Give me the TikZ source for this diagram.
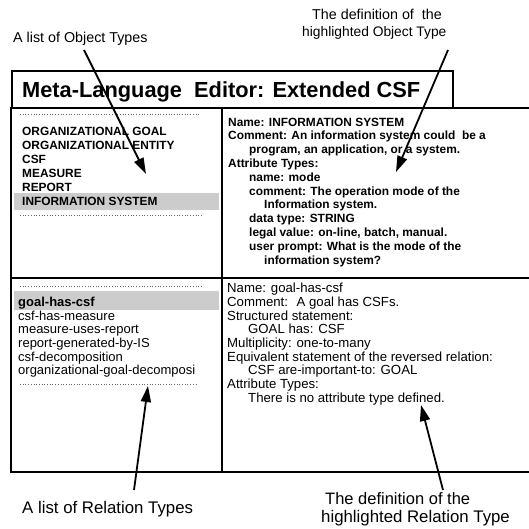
\documentclass[tikz,border=0pt]{standalone}
\usepackage{fontspec}
\setmainfont{Liberation Sans}
\usetikzlibrary{arrows.meta}
\begin{document}
\begin{tikzpicture}[x=1pt,y=-1pt,
 txt/.style={anchor=west,inner sep=0pt,text depth=0pt},
 topt/.style={txt,font=\fontsize{11.9}{13}\selectfont\bfseries,text height=8.5pt},
 bott/.style={txt,font=\fontsize{13}{14}\selectfont,text height=9.3pt},
 botr/.style={txt,font=\fontsize{13.2}{14}\selectfont,text height=9.4pt},
 botb/.style={txt,font=\fontsize{13}{14}\selectfont\bfseries,text height=9.3pt},
 annt/.style={txt,font=\fontsize{14.3}{16}\selectfont,text height=10.2pt},
 annb/.style={txt,font=\fontsize{16.8}{18}\selectfont,text height=12pt},
 titlet/.style={txt,font=\fontsize{21.8}{24}\selectfont\bfseries,text height=15.5pt},
 frame/.style={line width=1.6pt},
 dotline/.style={dotted, black!60, line width=0.7pt},
 hl/.style={fill=black!20},
 arr/.style={line width=1.8pt,-{Triangle[length=16pt,width=10pt]}}
]
\useasboundingbox (0,0) rectangle (529,529);
% highlight bands
\fill[hl] (14,193) rectangle (219,210);
\fill[hl] (14,291) rectangle (219,310);
% frames
\draw[frame] (12,71) rectangle (453,108);
\draw[frame] (529,108) -- (11,108) -- (11,472) -- (529,472);
\draw[frame] (222,108) -- (222,472);
\draw[frame] (11,278) -- (529,278);
% dotted separators
\draw[dotline] (20,114) -- (200,114);
\draw[dotline] (20,215) -- (203,215);
\draw[dotline] (20,286) -- (203,286);
\draw[dotline] (20,384) -- (197,384);
% title
\node[titlet] (title) at (22,90) {Meta-Language~ Editor: Extended CSF};
% object types
\node[topt] (o1) at (22,131) {ORGANIZATIONAL GOAL};
\node[topt] (o2) at (22,145) {ORGANIZATIONAL ENTITY};
\node[topt] (o3) at (22,159) {CSF};
\node[topt] (o4) at (22,173) {MEASURE};
\node[topt] (o5) at (22,187) {REPORT};
\node[topt] (o6) at (22,201) {INFORMATION SYSTEM};
% object definition
\node[topt] (d1) at (228,122) {Name: INFORMATION SYSTEM};
\node[topt] (d2) at (228,135.5) {Comment: An information system could~ be a};
\node[topt] (d3) at (249,149) {program, an application, or a system.};
\node[topt] (d4) at (228,163) {Attribute Types:};
\node[topt] (d5) at (249,177) {name: mode};
\node[topt] (d6) at (249,191) {comment: The operation mode of the};
\node[topt] (d7) at (264,204.5) {Information system.};
\node[topt] (d8) at (249,218) {data type: STRING};
\node[topt] (d9) at (249,232) {legal value: on-line, batch, manual.};
\node[topt] (d10) at (249,246) {user prompt: What is the mode of the};
\node[topt] (d11) at (264,260) {information system?};
% relation types
\node[botb] (r1) at (18,302) {goal-has-csf};
\node[bott] (r2) at (18,315.5) {csf-has-measure};
\node[bott] (r3) at (18,329) {measure-uses-report};
\node[bott] (r4) at (18,343) {report-generated-by-IS};
\node[bott] (r5) at (18,356.5) {csf-decomposition};
\node[bott] (r6) at (18,370) {organizational-goal-decomposi};
% relation definition
\node[botr] (e1) at (227,288) {Name: goal-has-csf};
\node[botr] (e2) at (227,302) {Comment:~ A goal has CSFs.};
\node[botr] (e3) at (227,315.5) {Structured statement:};
\node[botr] (e4) at (248,329) {GOAL has: CSF};
\node[botr] (e5) at (227,343) {Multiplicity: one-to-many};
\node[botr] (e6) at (227,356.5) {Equivalent statement of the reversed relation:};
\node[botr] (e7) at (248,370) {CSF are-important-to: GOAL};
\node[botr] (e8) at (227,384) {Attribute Types:};
\node[botr] (e9) at (248,397.5) {There is no attribute type defined.};
% annotations
\node[annt] (a1) at (13,37) {A list of Object Types};
\node[annt] (a2a) at (312,14) {The definition of~ the};
\node[annt,font=\fontsize{13.8}{16}\selectfont] (a2b) at (302,31) {highlighted Object Type};
\node[annb] (a3) at (22,507) {A list of Relation Types};
\node[annb,font=\fontsize{16.5}{18}\selectfont] (a4a) at (325,498) {The definition of the};
\node[annb] (a4b) at (321,516) {highlighted Relation Type};
% arrows
\coordinate (s1) at (84,50);   \coordinate (t1) at (146,174);
\coordinate (s2) at (448,50);  \coordinate (t2) at (396,172);
\coordinate (s3) at (134,490); \coordinate (t3) at (148,386);
\coordinate (s4) at (443,490); \coordinate (t4) at (421,405);
\draw[arr] (s1) -- (t1);
\draw[arr] (s2) -- (t2);
\draw[arr] (s3) -- (t3);
\draw[arr] (s4) -- (t4);
\end{tikzpicture}
\end{document}
